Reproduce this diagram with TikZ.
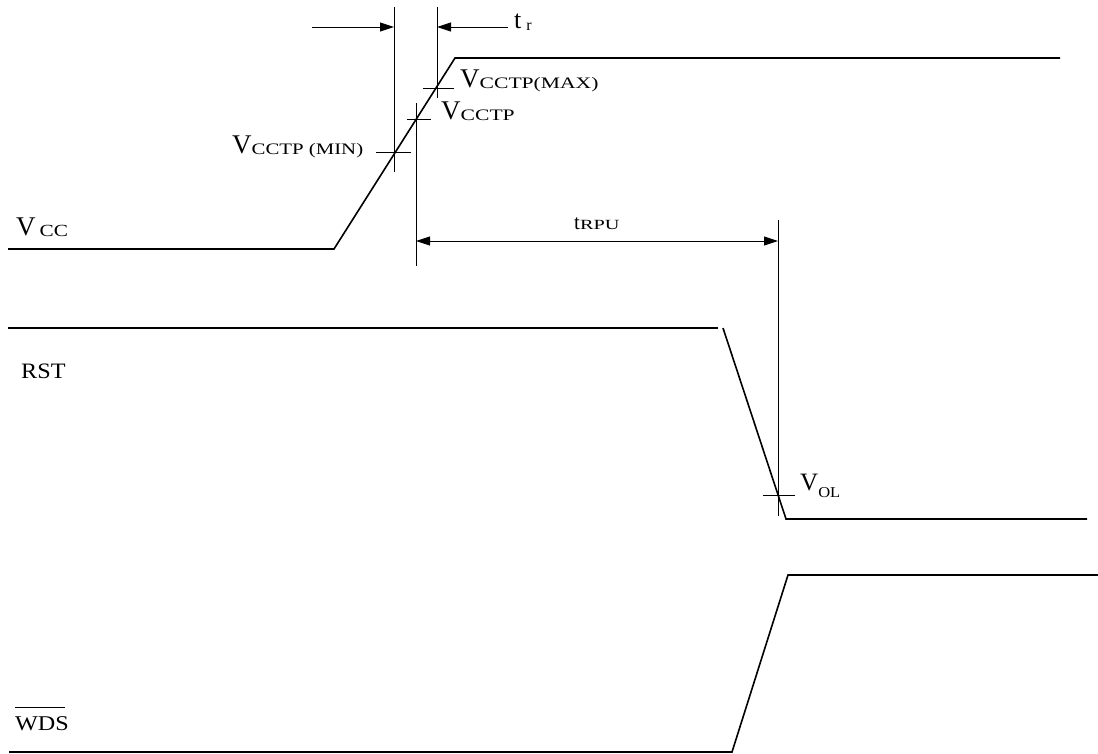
\documentclass[tikz,border=0pt]{standalone}
\usepackage{fontspec}
\usepackage{graphicx}
\setmainfont{Liberation Serif}
\usetikzlibrary{arrows.meta}
\newcommand\subx[3]{\scalebox{#2}[1]{\fontsize{#1}{#1}\selectfont #3}}
\newcommand\fsz[2]{{\fontsize{#1}{#1}\selectfont #2}}
\tikzset{
  sig/.style={line width=1.6pt, line join=miter},
  thin/.style={line width=0.9pt},
  dimarrow/.style={line width=0.9pt, -{Triangle[length=14pt,width=9pt]}},
  dimboth/.style={line width=0.9pt, {Triangle[length=14pt,width=9pt]}-{Triangle[length=14pt,width=9pt]}},
  lbl/.style={inner sep=0pt, anchor=base west}
}
\begin{document}
\begin{tikzpicture}[x=1pt,y=-1pt]
\useasboundingbox (0,0) rectangle (1098,753);
% coordinates
\coordinate (vccA) at (8,249);
\coordinate (vccB) at (334,249);
\coordinate (vccC) at (455,58);
\coordinate (vccD) at (1060,58);
\coordinate (rstA) at (8,328);
\coordinate (rstB) at (718,328);
\coordinate (rstC) at (723,328);
\coordinate (rstD) at (786,519);
\coordinate (rstE) at (1087,519);
\coordinate (wdsA) at (9,752);
\coordinate (wdsB) at (732,752);
\coordinate (wdsC) at (788,575);
\coordinate (wdsD) at (1098,575);
% signals
\draw[sig] (vccA) -- (vccB) -- (vccC) -- (vccD);
\draw[sig] (rstA) -- (rstB);
\draw[sig] (rstC) -- (rstD) -- (rstE);
\draw[sig] (wdsA) -- (wdsB) -- (wdsC) -- (wdsD);
% vertical reference lines
\coordinate (v1t) at (394,7);   \coordinate (v1b) at (394,172);
\coordinate (v2t) at (437,7);   \coordinate (v2b) at (437,98);
\coordinate (v3t) at (416,103); \coordinate (v3b) at (416,266);
\coordinate (v4t) at (778,220); \coordinate (v4b) at (778,516);
\draw[thin] (v1t) -- (v1b);
\draw[thin] (v2t) -- (v2b);
\draw[thin] (v3t) -- (v3b);
\draw[thin] (v4t) -- (v4b);
% ticks
\draw[thin] (423,88) -- (454,88);
\draw[thin] (407,119) -- (431,119);
\draw[thin] (376,152) -- (411,152);
\draw[thin] (763,495) -- (795,495);
% t_r arrows
\coordinate (trL) at (312,27); \coordinate (trLt) at (394,27);
\coordinate (trR) at (508,27); \coordinate (trRt) at (437,27);
\draw[dimarrow] (trL) -- (trLt);
\draw[dimarrow] (trR) -- (trRt);
% tRPU arrow
\coordinate (tpL) at (416,241); \coordinate (tpR) at (778,241);
\draw[dimboth] (tpL) -- (tpR);
% labels
\node[lbl] (ltr) at (514,28) {\fsz{26}{t}\hspace{5pt}\raisebox{-2pt}{\fsz{16}{r}}};
\node[lbl] (lmax) at (460,87) {\fsz{27}{V}\raisebox{-1pt}{\subx{16}{1.35}{CCTP(MAX)}}};
\node[lbl] (ltp) at (441,119) {\fsz{27}{V}\raisebox{-1pt}{\subx{16}{1.35}{CCTP}}};
\node[lbl] (lmin) at (232,153) {\fsz{27}{V}\raisebox{-1pt}{\subx{16}{1.3}{CCTP (MIN)}}};
\node[lbl] (lvcc) at (16,235) {\fsz{27}{V}\hspace{4pt}\raisebox{-1pt}{\subx{17}{1.25}{CC}}};
\node[lbl] (lrpu) at (574,229) {\fsz{21}{t}\subx{14}{1.45}{RPU}};
\node[lbl] (lvol) at (800,490) {\fsz{25}{V}\raisebox{-7pt}{\subx{15}{1.1}{OL}}};
\node[lbl] (lrst) at (21,378) {\subx{22}{1.1}{RST}};
\node[lbl] (lwds) at (15,730) {\subx{21}{1.15}{WDS}};
\draw[thin] (15,707) -- (65,707);
\end{tikzpicture}
\end{document}
